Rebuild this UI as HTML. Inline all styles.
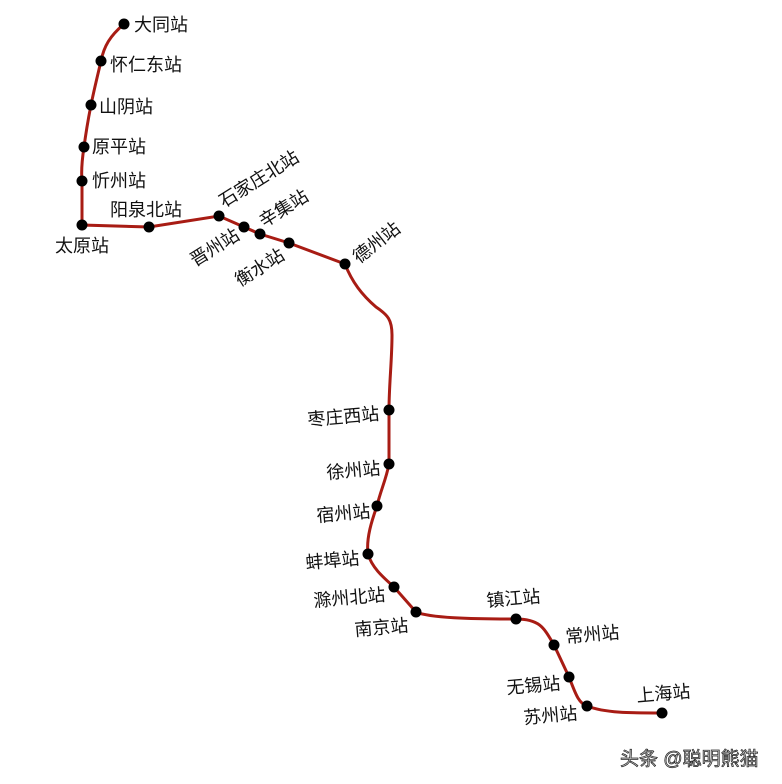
<!DOCTYPE html>
<html><head><meta charset="utf-8"><style>
html,body{margin:0;padding:0;background:#fff;}
svg{display:block;}
text{font-family:"Liberation Sans","Noto Sans CJK SC",sans-serif;font-size:18px;fill:#111;}
</style></head><body>
<svg width="782" height="784" viewBox="0 0 782 784" xmlns="http://www.w3.org/2000/svg">
<rect width="782" height="784" fill="#fff"/>
<path d="M124,24 C110,36 104,46 101,61 C97,78 94,90 91,105 C88,120 86,132 84,147 C82,160 81,170 82,181 L82,225 L149,227 L219,216 L244,227 L260,234 L289,243 L345,264 C352,282 362,295 376,307 C388,315 392,320 392,335 C392,360 389,385 389,410 L389,464 C386,480 380,492 377,506 C372,520 366,538 368,554 C372,568 384,578 394,587 L416,612 C430,618 470,619 516,619 C540,619 544,628 554,645 L569,677 C575,692 578,703 587,706 C605,713 630,713 662,713" fill="none" stroke="#a81c14" stroke-width="3"/>
<g fill="#000">
<circle cx="124" cy="24" r="5.5"/><circle cx="101" cy="61" r="5.5"/><circle cx="91" cy="105" r="5.5"/>
<circle cx="84" cy="147" r="5.5"/><circle cx="82" cy="181" r="5.5"/><circle cx="82" cy="225" r="5.5"/>
<circle cx="149" cy="227" r="5.5"/><circle cx="219" cy="216" r="5.5"/><circle cx="244" cy="227" r="5.5"/>
<circle cx="260" cy="234" r="5.5"/><circle cx="289" cy="243" r="5.5"/><circle cx="345" cy="264" r="5.5"/>
<circle cx="389" cy="410" r="5.5"/><circle cx="389" cy="464" r="5.5"/><circle cx="377" cy="506" r="5.5"/>
<circle cx="368" cy="554" r="5.5"/><circle cx="394" cy="587" r="5.5"/><circle cx="416" cy="612" r="5.5"/>
<circle cx="516" cy="619" r="5.5"/><circle cx="554" cy="645" r="5.5"/><circle cx="569" cy="677" r="5.5"/>
<circle cx="587" cy="706" r="5.5"/><circle cx="662" cy="713" r="5.5"/>
</g>
<text x="134" y="31">大同站</text>
<text x="110" y="71">怀仁东站</text>
<text x="99" y="113">山阴站</text>
<text x="92" y="153">原平站</text>
<text x="92" y="187">忻州站</text>
<text x="55" y="252">太原站</text>
<text x="110" y="216">阳泉北站</text>
<text x="224" y="208" transform="rotate(-32 224 208)">石家庄北站</text>
<text x="264" y="228" transform="rotate(-32 264 228)">辛集站</text>
<text x="195" y="267" transform="rotate(-32 195 267)">晋州站</text>
<text x="240" y="287" transform="rotate(-32 240 287)">衡水站</text>
<text x="359" y="264" transform="rotate(-38 359 264)">德州站</text>
<text x="308" y="426" transform="rotate(-5 308 426)">枣庄西站</text>
<text x="327" y="479" transform="rotate(-5 327 479)">徐州站</text>
<text x="317" y="522" transform="rotate(-5 317 522)">宿州站</text>
<text x="306" y="569" transform="rotate(-5 306 569)">蚌埠站</text>
<text x="314" y="607" transform="rotate(-5 314 607)">滁州北站</text>
<text x="355" y="636" transform="rotate(-5 355 636)">南京站</text>
<text x="487" y="607" transform="rotate(-5 487 607)">镇江站</text>
<text x="566" y="643" transform="rotate(-5 566 643)">常州站</text>
<text x="507" y="694" transform="rotate(-5 507 694)">无锡站</text>
<text x="524" y="724" transform="rotate(-5 524 724)">苏州站</text>
<text x="637" y="702" transform="rotate(-5 637 702)">上海站</text>
<text x="620" y="765" style="font-size:19px;fill:#ccc;stroke:#222;stroke-width:0.7px;">头条 @聪明熊猫</text>
</svg>
</body></html>
